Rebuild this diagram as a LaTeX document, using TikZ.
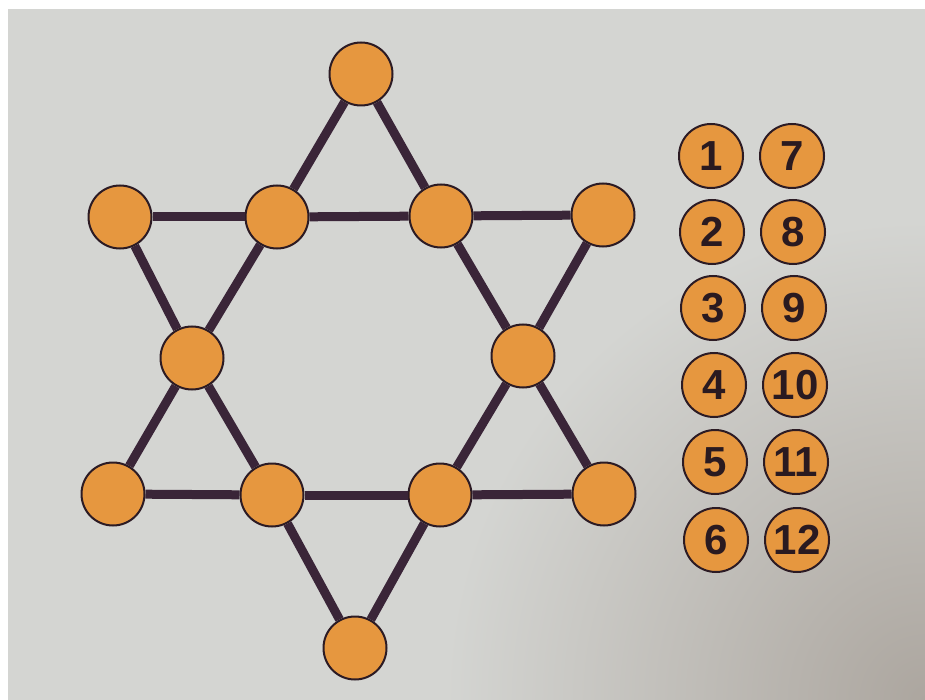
\documentclass[tikz,border=0pt]{standalone}
\usepackage{fontspec}
\setmainfont{Liberation Sans}
\definecolor{paper}{HTML}{D4D5D2}
\definecolor{paperdark}{HTML}{ACA69F}
\definecolor{disc}{HTML}{E6973F}
\definecolor{rim}{HTML}{2C1B24}
\definecolor{bar}{HTML}{3A2538}
\definecolor{digit}{HTML}{2A1A20}
\begin{document}
\begin{tikzpicture}[x=1pt,y=-1pt,
  spot/.style={circle,draw=rim,line width=2pt,fill=disc,minimum size=63pt,inner sep=0pt},
  token/.style={circle,draw=rim,line width=2pt,fill=disc,minimum size=64pt,inner sep=0pt,
    text=digit,font=\bfseries\fontsize{42}{42}\selectfont},
  link/.style={draw=bar,line width=9pt}]
\useasboundingbox (0,0) rectangle (925,700);
\fill[white] (0,0) rectangle (925,700);
\fill[paper] (8,9) rectangle (925,700);
\begin{scope}
  \clip (8,9) rectangle (925,700);
  \shade[inner color=paperdark,outer color=paper] (925,700) circle (480);
\end{scope}
% star spots
\node[spot] (t)  at (361,74) {};
\node[spot] (a1) at (120,217) {};
\node[spot] (a2) at (277,217) {};
\node[spot] (a3) at (441,216) {};
\node[spot] (a4) at (603,215) {};
\node[spot] (m1) at (192,358) {};
\node[spot] (m2) at (523,356) {};
\node[spot] (b1) at (113,494) {};
\node[spot] (b2) at (272,495) {};
\node[spot] (b3) at (440,495) {};
\node[spot] (b4) at (604,494) {};
\node[spot] (bt) at (355,648) {};
% connectors
\draw[link] (t) -- (a2); \draw[link] (a2) -- (m1); \draw[link] (m1) -- (b1);
\draw[link] (t) -- (a3); \draw[link] (a3) -- (m2); \draw[link] (m2) -- (b4);
\draw[link] (b1) -- (b2); \draw[link] (b2) -- (b3); \draw[link] (b3) -- (b4);
\draw[link] (a1) -- (a2); \draw[link] (a2) -- (a3); \draw[link] (a3) -- (a4);
\draw[link] (a1) -- (m1); \draw[link] (m1) -- (b2); \draw[link] (b2) -- (bt);
\draw[link] (a4) -- (m2); \draw[link] (m2) -- (b3); \draw[link] (b3) -- (bt);
% number tokens
\node[token] (n1)  at (711,156) {1};
\node[token] (n2)  at (712,232) {2};
\node[token] (n3)  at (713,308) {3};
\node[token] (n4)  at (714,385) {4};
\node[token] (n5)  at (715,462) {5};
\node[token] (n6)  at (716,540) {6};
\node[token] (n7)  at (792,156) {7};
\node[token] (n8)  at (793,232) {8};
\node[token] (n9)  at (794,308) {9};
\node[token] (n10) at (795,385) {10};
\node[token] (n11) at (796,462) {11};
\node[token] (n12) at (797,540) {12};
\end{tikzpicture}
\end{document}
